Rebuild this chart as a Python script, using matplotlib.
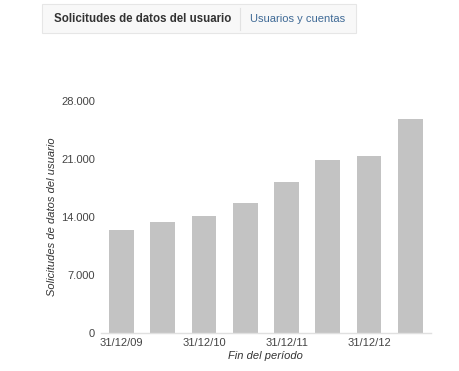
import matplotlib
matplotlib.use("Agg")
import matplotlib.pyplot as plt
from matplotlib.patches import FancyBboxPatch
from matplotlib.lines import Line2D

periods = ["31/12/09", "30/06/10", "31/12/10", "30/06/11",
           "31/12/11", "30/06/12", "31/12/12", "30/06/13"]
shown_labels = ["31/12/09", "", "31/12/10", "", "31/12/11", "", "31/12/12", ""]
requests = [12450, 13450, 14150, 15700, 18250, 20900, 21400, 25850]
y_ticks = [0, 7000, 14000, 21000, 28000]
y_tick_labels = ["0", "7.000", "14.000", "21.000", "28.000"]

plt.rcParams['font.family'] = ['Liberation Sans', 'DejaVu Sans']

W, H = 460, 371
fig = plt.figure(figsize=(W / 100, H / 100), dpi=100)
fig.patch.set_facecolor("white")

ax = fig.add_axes([100.8 / W, 1 - 333 / H, 330.2 / W, 232 / H])
x = list(range(len(periods)))
ax.bar(x, requests, width=0.6, color="#c3c3c3", zorder=2)
ax.set_xlim(-0.5, len(periods) - 0.5)
ax.set_ylim(0, 28000)
ax.set_yticks(y_ticks)
ax.set_yticklabels(y_tick_labels)
ax.set_xticks(x)
ax.set_xticklabels(shown_labels)
for s in ["top", "right", "left"]:
    ax.spines[s].set_visible(False)
ax.spines["bottom"].set_color("#e0e0e0")
ax.spines["bottom"].set_linewidth(1.0)
ax.tick_params(axis="both", length=0, labelsize=8.0, colors="#444444")
ax.tick_params(axis="y", pad=4)
ax.tick_params(axis="x", pad=3.5)
ax.set_xlabel("Fin del período", fontsize=8.0, style="italic", color="#333333", labelpad=2)
ax.set_ylabel("Solicitudes de datos del usuario", fontsize=8.0, style="italic",
              color="#333333", labelpad=3)

# header tab box
box = FancyBboxPatch((42 / W, 1 - 33 / H), (356 - 42) / W, 29 / H,
                     boxstyle="square,pad=0", transform=fig.transFigure,
                     facecolor="#f8f8f8", edgecolor="#e6e6e6", linewidth=0.8)
fig.patches.append(box)
fig.add_artist(Line2D([240 / W, 240 / W], [1 - 30 / H, 1 - 8 / H],
                      transform=fig.transFigure, color="#e2e2e2", linewidth=0.8))
fig.text(54 / W, 1 - 19.5 / H, "Solicitudes de datos del usuario", fontsize=8.3,
         fontweight="bold", color="#333333", va="center", ha="left")
fig.text(250 / W, 1 - 19.5 / H, "Usuarios y cuentas", fontsize=8.0,
         color="#3f6a96", va="center", ha="left")

fig.savefig("out.png", dpi=100, facecolor="white")
